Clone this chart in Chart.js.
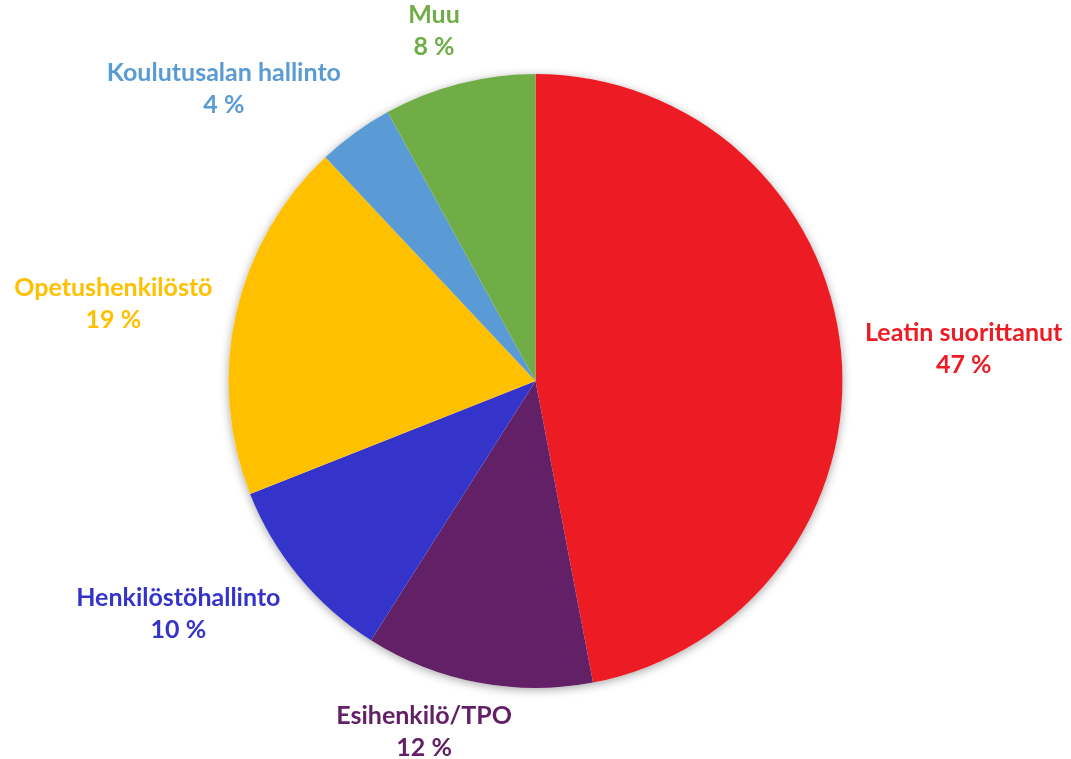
<!DOCTYPE html>
<html>
<head>
<meta charset="utf-8">
<script src="https://cdn.jsdelivr.net/npm/chart.js@4/dist/chart.umd.min.js"></script>
<style>
  html, body { margin: 0; padding: 0; background: #ffffff; }
  #wrap { width: 1071px; height: 759px; position: relative; }
</style>
</head>
<body>
<div id="wrap"><canvas id="pieChart"></canvas></div>
<script>
// ---- Data ----
const categories = [
  'Leatin suorittanut',
  'Esihenkilö/TPO',
  'Henkilöstöhallinto',
  'Opetushenkilöstö',
  'Koulutusalan hallinto',
  'Muu',
];
const shares = [47, 12, 10, 19, 4, 8];
const sliceColors = ['#ED1C24', '#622066', '#3434CB', '#FFC000', '#5B9BD5', '#70AD47'];

const LABEL_FONT = 'bold 25px Lato, "Open Sans", sans-serif';
const LINE_H = 32;

// ---- Soft shadow behind the pie ----
const pieShadow = {
  id: 'pieShadow',
  beforeDatasetsDraw(chart) {
    const arc = chart.getDatasetMeta(0).data[0];
    if (!arc) return;
    const ctx = chart.ctx;
    ctx.save();
    ctx.shadowColor = 'rgba(0,0,0,0.35)';
    ctx.shadowBlur = 10;
    ctx.shadowOffsetY = 2;
    ctx.fillStyle = '#ffffff';
    ctx.beginPath();
    ctx.arc(arc.x, arc.y, arc.outerRadius, 0, Math.PI * 2);
    ctx.fill();
    ctx.restore();
  },
};

// ---- Outside labels (name + percent), placed from slice geometry ----
const outsideLabels = {
  id: 'outsideLabels',
  afterDatasetsDraw(chart) {
    const ctx = chart.ctx;
    const meta = chart.getDatasetMeta(0);
    ctx.save();
    ctx.font = LABEL_FONT;
    ctx.textAlign = 'center';
    ctx.textBaseline = 'middle';
    meta.data.forEach((arc, i) => {
      const mid = (arc.startAngle + arc.endAngle) / 2;
      const dx = Math.cos(mid);
      const dy = Math.sin(mid);
      const r = arc.outerRadius + 24;
      const ax = arc.x + dx * r;
      const ay = arc.y + dy * r;
      const line1 = categories[i];
      const line2 = shares[i] + ' %';
      const w = Math.max(ctx.measureText(line1).width, ctx.measureText(line2).width);
      const h = LINE_H * 2;
      const sx = Math.max(-1, Math.min(1, dx * 3));
      const sy = dy;
      const cx = ax + sx * w / 2;
      // keep the label block inside the canvas
      const cy = Math.min(ay + sy * h / 2 + 2, chart.height - LINE_H + 5);
      ctx.fillStyle = sliceColors[i];
      ctx.fillText(line1, cx, cy - LINE_H / 2);
      ctx.fillText(line2, cx, cy + LINE_H / 2);
    });
    ctx.restore();
  },
};

new Chart(document.getElementById('pieChart').getContext('2d'), {
  type: 'pie',
  data: {
    labels: categories,
    datasets: [
      {
        data: shares,
        backgroundColor: sliceColors,
        borderWidth: 0,
        radius: 307,
      },
    ],
  },
  options: {
    responsive: true,
    maintainAspectRatio: false,
    animation: false,
    layout: { padding: { top: 3, bottom: 0 } },
    plugins: {
      legend: { display: false },
      tooltip: { enabled: false },
    },
  },
  plugins: [pieShadow, outsideLabels],
});
</script>
</body>
</html>
